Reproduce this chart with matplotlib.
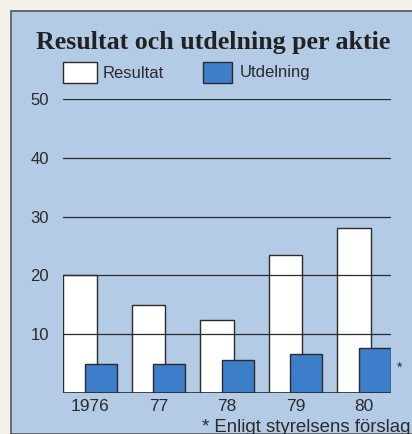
import numpy as np
import matplotlib
matplotlib.use('Agg')
import matplotlib.pyplot as plt
from matplotlib.patches import Rectangle

# data
years = ['1976', '77', '78', '79', '80']
resultat = [20.0, 15.0, 12.5, 23.4, 28.0]
utdelning = [4.9, 4.9, 5.6, 6.6, 7.6]
yticks = [10, 20, 30, 40, 50]

bg = '#f2f1ec'
panel = '#b3cbe5'
blue = '#3d7ecb'
dark = '#2b2b2b'

plt.rcParams['font.family'] = ['Liberation Sans', 'DejaVu Sans']

W, H = 412, 434
fig = plt.figure(figsize=(W / 100, H / 100), dpi=100, facecolor=bg)

# blue panel behind everything
fig.patches.append(Rectangle((11 / W, 0), 1, 1 - 11 / H, transform=fig.transFigure,
                             facecolor=panel, edgecolor='#555555', linewidth=1.2, zorder=0))

ax = fig.add_axes([63 / W, (H - 393) / H, 328 / W, 294 / H])
ax.set_facecolor('none')
ax.set_zorder(2)

x = np.arange(len(years))
ax.bar(x - 0.149, resultat, width=0.49, color='white', edgecolor=dark, linewidth=1.0, zorder=2)
ax.bar(x + 0.157, utdelning, width=0.474, color=blue, edgecolor=dark, linewidth=1.0, zorder=4)

for v in yticks:
    ax.axhline(v, color=dark, linewidth=0.9, zorder=3)
ax.axhline(0, color=dark, linewidth=1.2, zorder=5)

ax.set_xlim(-0.394, 4.394)
ax.set_ylim(0, 50)
ax.set_xticks(x)
ax.set_xticklabels(years, fontsize=12.5, color=dark)
ax.set_yticks(yticks)
ax.set_yticklabels([str(v) for v in yticks], fontsize=12, color=dark)
ax.tick_params(length=0, pad=10)
ax.tick_params(axis='x', pad=4)
for s in ax.spines.values():
    s.set_visible(False)

# title and legend
fig.text(36 / W, 1 - 42 / H, 'Resultat och utdelning per aktie', family='Liberation Serif',
         weight='bold', fontsize=18.6, color='#222222', va='center', ha='left')
fig.patches.append(Rectangle((63 / W, 1 - 83 / H), 34 / W, 21 / H, transform=fig.transFigure,
                             facecolor='white', edgecolor=dark, linewidth=1.0, zorder=1))
fig.text(103 / W, 1 - 73 / H, 'Resultat', fontsize=12, color=dark, va='center')
fig.patches.append(Rectangle((203 / W, 1 - 83 / H), 29 / W, 21 / H, transform=fig.transFigure,
                             facecolor=blue, edgecolor=dark, linewidth=1.0, zorder=1))
fig.text(240 / W, 1 - 73 / H, 'Utdelning', fontsize=12, color=dark, va='center')

# footnote
fig.text(400 / W, 1 - 368 / H, '*', fontsize=10, color=dark, ha='center', va='center')
fig.text(410 / W, 1 - 427 / H, '* Enligt styrelsens förslag', fontsize=13.4, color=dark,
         ha='right', va='center')

fig.savefig('out.png', dpi=100, facecolor=bg)
